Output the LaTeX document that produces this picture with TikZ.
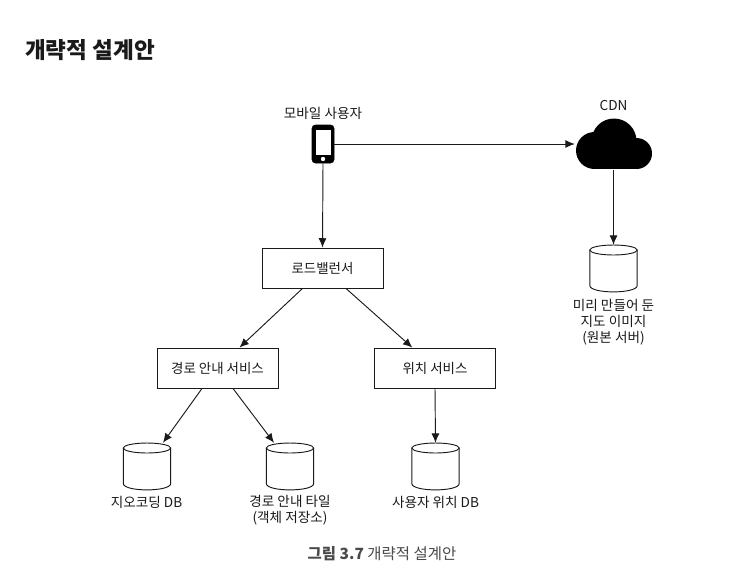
\documentclass[tikz,border=0pt]{standalone}
\usepackage{fontspec}
\setmainfont{Noto Sans CJK KR}
\usetikzlibrary{arrows.meta}
\definecolor{ink}{HTML}{1A1A1A}
\definecolor{capt}{HTML}{4A4A4A}
\tikzset{
  svcbox/.style={draw=ink,line width=0.65pt,minimum width=90.75pt,minimum height=30pt,inner sep=0pt,font=\fontsize{10.1}{12}\selectfont,text=ink},
  dbbody/.style={minimum width=35.6pt,minimum height=35.2pt,inner sep=0pt},
  dbline/.style={draw=ink,line width=0.7pt},
  lbl/.style={font=\fontsize{10.2}{12}\selectfont,text=ink,align=center,inner sep=0pt},
  conn/.style={draw=ink,line width=0.7pt,-{Latex[length=7pt,width=6pt]}},
}
\newcommand{\dbcyl}[3]{%
  \node[dbbody] (#1) at (#2,#3) {};
  \draw[dbline,shift={(#2,#3)}] (0,-18.5) ellipse [x radius=23.7,y radius=5];
  \draw[dbline,shift={(#2,#3)}] (-23.7,-18.5) -- (-23.7,17) .. controls (-23.7,25.5) and (23.7,25.5) .. (23.7,17) -- (23.7,-18.5);
}
\begin{document}
\begin{tikzpicture}[x=0.75pt,y=-0.75pt]
\useasboundingbox (0,0) rectangle (730,586);
\fill[white] (0,0) rectangle (730,586);
\node[anchor=west,inner sep=0pt,font=\fontsize{16.9}{20}\selectfont\bfseries,text=ink] (title) at (25,50) {개략적 설계안};
\node[lbl] (mobilelbl) at (323,113.5) {모바일 사용자};
\node[lbl] (cdnlbl) at (613.5,105.5) {CDN};
% phone
\node[draw=black,fill=black,rounded corners=2.5pt,minimum width=16.5pt,minimum height=28.5pt,inner sep=0pt] (phone) at (323,144) {};
\fill[white] (315.5,130) rectangle (330.5,155);
\fill[white] (323,159) circle (2.2);
% cloud
\node[minimum width=57.75pt,minimum height=39pt,inner sep=0pt] (cdn) at (613.5,144) {};
\fill[black] (614,141) circle (22.5) (594.5,150.5) circle (18.5) (636.5,153.5) circle (15.5);
\fill[black] (594.5,146) rectangle (636.5,169);
% boxes
\node[svcbox] (lb) at (322.5,268) {로드밸런서};
\node[svcbox] (route) at (217.5,368) {경로 안내 서비스};
\node[svcbox] (loc) at (435,368) {위치 서비스};
% databases
\dbcyl{geo}{147}{466.5}
\dbcyl{tile}{290}{466.5}
\dbcyl{user}{435.5}{466.5}
\dbcyl{origin}{613.5}{268.5}
% labels
\node[lbl] (geolbl) at (146.5,502.5) {지오코딩 DB};
\node[lbl] (tilelbl) at (290,510.5) {경로 안내 타일\\(객체 저장소)};
\node[lbl] (userlbl) at (435.5,502.5) {사용자 위치 DB};
\node[lbl] (originlbl) at (613.5,322.5) {미리 만들어 둔\\지도 이미지\\(원본 서버)};
\node[inner sep=0pt,font=\fontsize{11.6}{14}\selectfont,text=capt] (caption) at (382,554) {\textbf{그림 3.7} 개략적 설계안};
% connectors
\draw[conn] (phone.east) -- (cdn.west);
\draw[conn] (phone.south) -- (lb.north);
\draw[conn] (cdn.south) -- (origin.north);
\draw[conn] ([xshift=-15pt]lb.south) -- ([xshift=16.5pt]route.north);
\draw[conn] ([xshift=17.6pt]lb.south) -- ([xshift=-17pt]loc.north);
\draw[conn] ([xshift=-11.6pt]route.south) -- ([xshift=12pt]geo.north);
\draw[conn] ([xshift=11.6pt]route.south) -- ([xshift=-12pt]tile.north);
\draw[conn] (loc.south) -- (user.north);
\end{tikzpicture}
\end{document}
